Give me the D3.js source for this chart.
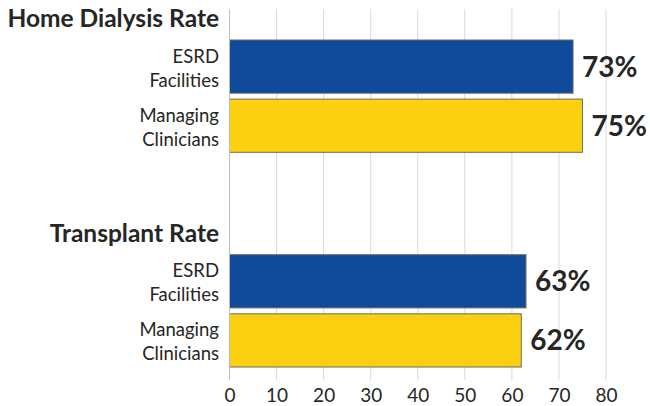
<!DOCTYPE html>
<html>
<head>
<meta charset="utf-8">
<script src="https://cdn.jsdelivr.net/npm/d3@7"></script>
<style>
  body { margin: 0; background: #fff; }
  text { font-family: Lato, "Open Sans", sans-serif; fill: #262626; }
</style>
</head>
<body>
<script>
// chart data
var groups = ["Home Dialysis Rate", "Transplant Rate"];
var series = ["ESRD Facilities", "Managing Clinicians"];
var seriesLines = [["ESRD", "Facilities"], ["Managing", "Clinicians"]];
var homeValues = [73, 75];
var transplantValues = [63, 62];
var ticks = [0, 10, 20, 30, 40, 50, 60, 70, 80];
var colors = ["#104b9b", "#fcd00f"];

var rows = [];
groups.forEach(function (g, gi) {
    var vals = gi === 0 ? homeValues : transplantValues;
    series.forEach(function (s, si) {
        rows.push({group: g, series: s, si: si, value: vals[si]});
    });
});

var svg = d3.select("body")
    .append("svg")
    .attr("width", 650)
    .attr("height", 406);

var x = d3.scaleLinear()
    .domain([0, 80])
    .range([229.5, 606]);

var y0 = d3.scaleBand()
    .domain(groups)
    .range([40, 367])
    .paddingInner(0.477);

var y1 = d3.scaleBand()
    .domain(series)
    .range([0, y0.bandwidth()])
    .paddingInner(0.1);

// gridlines
svg.append("g")
    .selectAll("line")
    .data(ticks)
    .enter()
    .append("line")
    .attr("x1", function (d) { return x(d); })
    .attr("x2", function (d) { return x(d); })
    .attr("y1", 9)
    .attr("y2", 380)
    .attr("stroke", "#d9d9d9")
    .attr("stroke-width", 1);

// x axis labels
var xAxis = d3.axisBottom(x).tickValues(ticks).tickSize(0).tickPadding(0);
var ax = svg.append("g")
    .attr("transform", "translate(0,384)")
    .call(xAxis);
ax.select(".domain").remove();
ax.selectAll("text")
    .attr("dy", "0.95em")
    .style("font-size", "19px")
    .style("font-family", "Lato, 'Open Sans', sans-serif")
    .attr("fill", "#333");

// group titles
svg.selectAll(".title")
    .data(groups)
    .enter()
    .append("text")
    .attr("class", "title")
    .attr("x", 219)
    .attr("y", function (d) { return y0(d) - 13; })
    .attr("text-anchor", "end")
    .style("font-size", "24.5px")
    .style("font-weight", "bold")
    .text(function (d) { return d; });

// bars
svg.selectAll("rect.bar")
    .data(rows)
    .enter()
    .append("rect")
    .attr("class", "bar")
    .attr("x", x(0))
    .attr("y", function (d) { return y0(d.group) + y1(d.series); })
    .attr("width", function (d) { return x(d.value) - x(0); })
    .attr("height", y1.bandwidth())
    .attr("fill", function (d) { return colors[d.si]; })
    .attr("stroke", "#6b6b6b")
    .attr("stroke-width", 1);

// zero axis line
svg.append("line")
    .attr("x1", x(0)).attr("x2", x(0))
    .attr("y1", 9).attr("y2", 380)
    .attr("stroke", "#bfbfbf");

// category labels
var cat = svg.selectAll("text.cat")
    .data(rows)
    .enter()
    .append("text")
    .attr("class", "cat")
    .attr("text-anchor", "end")
    .attr("x", 219)
    .attr("y", function (d) { return y0(d.group) + y1(d.series) + y1.bandwidth() / 2; })
    .style("font-size", "18.5px");
cat.append("tspan")
    .attr("x", 219)
    .attr("dy", "-0.22em")
    .text(function (d) { return seriesLines[d.si][0]; });
cat.append("tspan")
    .attr("x", 219)
    .attr("dy", "1.3em")
    .text(function (d) { return seriesLines[d.si][1]; });

// value labels
svg.selectAll("text.val")
    .data(rows)
    .enter()
    .append("text")
    .attr("class", "val")
    .attr("x", function (d) { return x(d.value) + 9; })
    .attr("y", function (d) { return y0(d.group) + y1(d.series) + y1.bandwidth() / 2; })
    .attr("dy", "0.36em")
    .style("font-size", "28px")
    .style("font-weight", "bold")
    .text(function (d) { return d.value + "%"; });
</script>
</body>
</html>
